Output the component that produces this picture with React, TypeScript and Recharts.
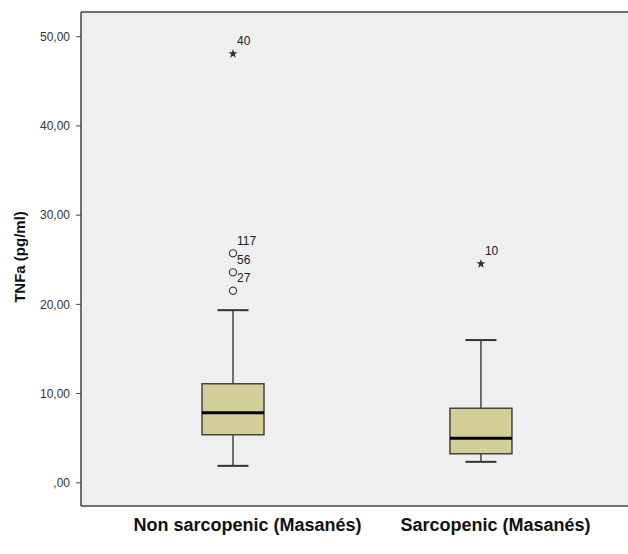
import React from 'react';
import {
  ScatterChart,
  Scatter,
  XAxis,
  YAxis,
  CartesianGrid,
  ReferenceArea,
  ReferenceLine,
  LabelList,
} from 'recharts';

// group labels and box statistics (pg/ml)
const groups = ['Non sarcopenic (Masanés)', 'Sarcopenic (Masanés)'];
const whiskerLow = [1.9, 2.35];
const q1 = [5.4, 3.25];
const median = [7.85, 5.0];
const q3 = [11.1, 8.37];
const whiskerHigh = [19.35, 16.0];

// outliers: circles = mild, stars = extreme
const circleGroup = [1, 1, 1];
const circleValues = [25.72, 23.59, 21.52];
const circleIds = ['117', '56', '27'];
const starGroup = [1, 2];
const starValues = [48.09, 24.55];
const starIds = ['40', '10'];

const yTicks = [0, 10, 20, 30, 40, 50];

const circles = circleValues.map((v, i) => ({ x: circleGroup[i], y: v, id: circleIds[i] }));
const stars = starValues.map((v, i) => ({ x: starGroup[i], y: v, id: starIds[i] }));

const FONT = '"Liberation Sans", Arial, sans-serif';
const X_MIN = 0.387;
const X_MAX = 2.593;
const Y_MIN = -2.6;
const Y_MAX = 52.77;
const HALF_BOX = 0.125;
const HALF_CAP = 0.0625;
const LINE = '#444';

const fmt = (v: number) => (v === 0 ? ',00' : v.toFixed(2).replace('.', ','));

const CircleShape = (props: any) => (
  <circle cx={props.cx} cy={props.cy} r={3.6} fill="none" stroke={LINE} strokeWidth={1.2} />
);

const StarShape = (props: any) => {
  const { cx, cy } = props;
  const pts: string[] = [];
  for (let i = 0; i < 10; i++) {
    const r = i % 2 === 0 ? 4.8 : 1.9;
    const a = (Math.PI / 5) * i - Math.PI / 2;
    pts.push(`${cx + r * Math.cos(a)},${cy + r * Math.sin(a)}`);
  }
  return <polygon points={pts.join(' ')} fill="#333" />;
};

// LabelList hands over the symbol's top-left corner; put the id up and to the right
const IdLabel = (props: any) => (
  <text x={props.x + 8.5} y={props.y - 4} fontSize={12} fontFamily={FONT} fill="#222">
    {props.value}
  </text>
);

const CategoryTick = (props: any) => {
  const { x, y, payload } = props;
  return (
    <text
      x={x + 14.5}
      y={y + 23}
      textAnchor="middle"
      fontSize={18}
      fontWeight="bold"
      fontFamily={FONT}
      fill="#111"
    >
      {groups[payload.value - 1]}
    </text>
  );
};

export default function App() {
  return (
    <div style={{ position: 'absolute', left: 0, top: 0, background: '#fff' }}>
      <ScatterChart width={628} height={554} margin={{ top: 12, right: 0, bottom: 0, left: 0 }}>
        <CartesianGrid horizontal={false} vertical={false} fill="#efefef" />
        <XAxis
          type="number"
          dataKey="x"
          domain={[X_MIN, X_MAX]}
          ticks={[1, 2]}
          allowDataOverflow
          height={48}
          tickLine={false}
          tickSize={0}
          axisLine={{ stroke: LINE, strokeWidth: 1.5 }}
          tick={<CategoryTick />}
        />
        <YAxis
          type="number"
          dataKey="y"
          domain={[Y_MIN, Y_MAX]}
          ticks={yTicks}
          allowDataOverflow
          width={81}
          tickSize={5}
          tickMargin={6}
          tickFormatter={fmt}
          axisLine={{ stroke: LINE, strokeWidth: 1.5 }}
          tickLine={{ stroke: LINE }}
          tick={{ fontSize: 12, fill: '#333', fontFamily: FONT }}
          label={{
            content: (p: any) => {
              const vb = p.viewBox;
              const cx = 19;
              const cy = vb.y + vb.height / 2 - 2;
              return (
                <text
                  x={cx}
                  y={cy}
                  transform={`rotate(-90 ${cx} ${cy})`}
                  textAnchor="middle"
                  dominantBaseline="central"
                  fontSize={15}
                  fontWeight="bold"
                  fontFamily={FONT}
                  fill="#111"
                >
                  TNFa (pg/ml)
                </text>
              );
            },
          }}
        />
        <ReferenceLine y={Y_MAX} stroke={LINE} strokeWidth={1.5} ifOverflow="visible" />

        {groups.map((g, i) => {
          const c = i + 1;
          return (
            <React.Fragment key={g}>
              <ReferenceLine
                segment={[{ x: c, y: q3[i] }, { x: c, y: whiskerHigh[i] }]}
                stroke={LINE}
                strokeWidth={1.5}
              />
              <ReferenceLine
                segment={[{ x: c, y: whiskerLow[i] }, { x: c, y: q1[i] }]}
                stroke={LINE}
                strokeWidth={1.5}
              />
              <ReferenceLine
                segment={[{ x: c - HALF_CAP, y: whiskerHigh[i] }, { x: c + HALF_CAP, y: whiskerHigh[i] }]}
                stroke="#333"
                strokeWidth={2}
              />
              <ReferenceLine
                segment={[{ x: c - HALF_CAP, y: whiskerLow[i] }, { x: c + HALF_CAP, y: whiskerLow[i] }]}
                stroke="#333"
                strokeWidth={2}
              />
              <ReferenceArea
                x1={c - HALF_BOX}
                x2={c + HALF_BOX}
                y1={q1[i]}
                y2={q3[i]}
                fill="#d4cf99"
                fillOpacity={1}
                stroke={LINE}
                strokeWidth={1.5}
              />
              <ReferenceLine
                segment={[{ x: c - HALF_BOX, y: median[i] }, { x: c + HALF_BOX, y: median[i] }]}
                stroke="#000"
                strokeWidth={3}
              />
            </React.Fragment>
          );
        })}

        <Scatter data={circles} shape={<CircleShape />} isAnimationActive={false}>
          <LabelList dataKey="id" content={<IdLabel />} />
        </Scatter>
        <Scatter data={stars} shape={<StarShape />} isAnimationActive={false}>
          <LabelList dataKey="id" content={<IdLabel />} />
        </Scatter>
      </ScatterChart>
    </div>
  );
}
